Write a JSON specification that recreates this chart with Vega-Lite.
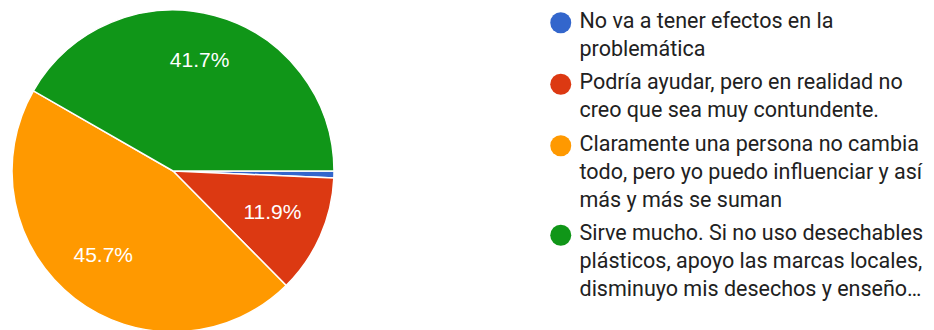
{
  "$schema": "https://vega.github.io/schema/vega-lite/v6.json",
  "width": 322,
  "height": 322,
  "padding": {"left": 9, "top": 7, "right": 0, "bottom": 0},
  "background": "white",
  "config": {
    "view": {"stroke": null},
    "font": "Roboto",
    "style": {"guide-label": {"lineHeight": 28, "dy": -12}}
  },
  "data": {
    "values": [
      {"ord": 1, "option": "No va a tener efectos en la|problemática", "pct": 0.7, "lbl": ""},
      {"ord": 2, "option": "Podría ayudar, pero en realidad no|creo que sea muy contundente.", "pct": 11.9, "lbl": "11.9%"},
      {"ord": 3, "option": "Claramente una persona no cambia|todo, pero yo puedo influenciar y así|más y más se suman", "pct": 45.7, "lbl": "45.7%"},
      {"ord": 4, "option": "Sirve mucho. Si no uso desechables|plásticos, apoyo las marcas locales,|disminuyo mis desechos y enseño…", "pct": 41.7, "lbl": "41.7%"}
    ]
  },
  "encoding": {
    "theta": {"field": "pct", "type": "quantitative", "stack": true, "scale": {"range": [1.5707963, 7.8539816]}},
    "order": {"field": "ord", "type": "quantitative"},
    "color": {
      "field": "option",
      "type": "nominal",
      "sort": null,
      "scale": {
        "domain": [
          "No va a tener efectos en la|problemática",
          "Podría ayudar, pero en realidad no|creo que sea muy contundente.",
          "Claramente una persona no cambia|todo, pero yo puedo influenciar y así|más y más se suman",
          "Sirve mucho. Si no uso desechables|plásticos, apoyo las marcas locales,|disminuyo mis desechos y enseño…"
        ],
        "range": ["#3366cc", "#dc3912", "#ff9900", "#109618"]
      },
      "legend": {
        "orient": "none",
        "legendX": 538,
        "legendY": 2,
        "title": null,
        "padding": 0,
        "symbolType": "circle",
        "symbolSize": 441,
        "symbolStrokeWidth": 0,
        "symbolOpacity": 1,
        "labelFont": "Roboto",
        "labelFontSize": 21.5,
        "labelColor": "#212121",
        "labelLimit": 0,
        "labelOffset": 8,
        "labelBaseline": "top",
        "rowPadding": 10.5,
        "labelExpr": "split(datum.label, '|')"
      }
    }
  },
  "layer": [
    {
      "mark": {"type": "arc", "outerRadius": 161, "stroke": "white", "strokeWidth": 1.5}
    },
    {
      "mark": {"type": "text", "radius": 111, "dy": -3, "dx": -2, "fontSize": 21, "font": "Liberation Sans", "fill": "white"},
      "encoding": {
        "text": {"field": "lbl", "type": "nominal"},
        "color": {"value": "white"}
      }
    }
  ]
}
